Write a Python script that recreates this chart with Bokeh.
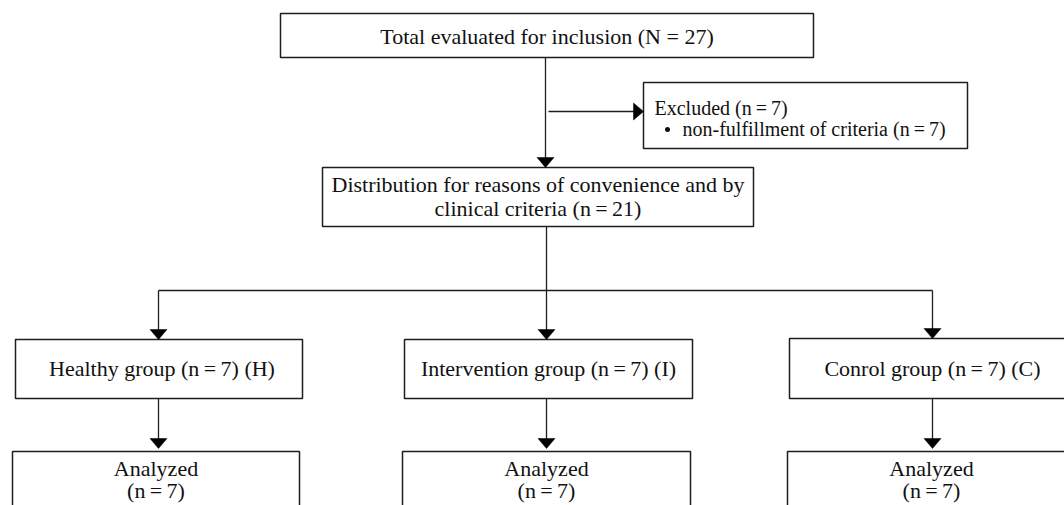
from bokeh.plotting import figure
from bokeh.models import Range1d
from bokeh.core.properties import value
from bokeh.embed import file_html
from bokeh.resources import INLINE

# ---- content ----
box_texts = [
    ["Total evaluated for inclusion (N = 27)"],
    None,
    ["Distribution for reasons of convenience and by", "clinical criteria (n\u2009=\u200921)"],
    ["Healthy group (n\u2009=\u20097) (H)"],
    ["Intervention group (n\u2009=\u20097) (I)"],
    ["Conrol group (n\u2009=\u20097) (C)"],
    ["Analyzed", "(n\u2009=\u20097)"],
    ["Analyzed", "(n\u2009=\u20097)"],
    ["Analyzed", "(n\u2009=\u20097)"],
]
excluded_lines = ["Excluded (n\u2009=\u20097)", "non-fulfillment of criteria (n\u2009=\u20097)"]

# ---- layout (pixel coordinates of the page) ----
L = [280, 643, 322, 15, 404, 789, 12, 402, 787]
R = [813, 967, 753, 302, 692, 1075, 299, 690, 1075]
T = [13, 82, 167, 339, 339, 338, 451, 451, 451]
B = [57, 148, 226, 398, 398, 398, 530, 530, 530]
text_centers_y = {0: 36, 2: 196, 3: 368, 4: 368, 5: 368, 6: 479, 7: 479, 8: 479}
line_h = {2: 24, 6: 22, 7: 22, 8: 22}

W, H = 1064, 505
p = figure(width=W, height=H, output_backend="svg", toolbar_location=None,
           x_range=Range1d(0, W), y_range=Range1d(H, 0),
           min_border=0, outline_line_color=None)
p.axis.visible = False
p.grid.visible = False
p.background_fill_color = "white"

p.quad(left=L, right=R, top=T, bottom=B, fill_color="white",
       line_color="#1e1e1e", line_width=1.5)

FONT = value("Liberation Serif")
FS = "22px"
tx, ty, tt = [], [], []
for i, lines in enumerate(box_texts):
    if lines is None:
        continue
    cx = (L[i] + R[i]) / 2 + (3 if i in (3,) else 0)
    cy = text_centers_y[i]
    n = len(lines)
    for k, s in enumerate(lines):
        tx.append(cx)
        ty.append(cy + (k - (n - 1) / 2) * line_h.get(i, 0))
        tt.append(s)
p.text(x=tx, y=ty, text=tt, text_align="center", text_baseline="middle",
       text_font=FONT, text_font_size=FS, text_color="#111111")

# excluded box text (left aligned)
p.text(x=[654, 682], y=[107, 128], text=excluded_lines, text_align="left",
       text_baseline="middle", text_font=FONT, text_font_size="20px", text_color="#111111")
p.scatter(x=[667], y=[129], size=5, marker="circle", fill_color="#111111", line_color=None)

# ---- connectors ----
sx0 = [545, 548, 546, 158, 158, 546, 932, 158, 546, 932]
sy0 = [57, 111, 226, 290, 290, 290, 290, 398, 398, 398]
sx1 = [545, 634, 546, 932, 158, 546, 932, 158, 546, 932]
sy1 = [158, 111, 290, 290, 330, 330, 330, 442, 442, 442]
p.segment(x0=sx0, y0=sy0, x1=sx1, y1=sy1, line_color="#1e1e1e", line_width=1.3)

# arrow heads: (tip x, tip y, direction)
heads = [(545, 167, "down"), (643, 111, "right"),
         (158, 339, "down"), (546, 339, "down"), (932, 338, "down"),
         (158, 448, "down"), (546, 448, "down"), (932, 448, "down")]
xs, ys = [], []
for hx, hy, d in heads:
    if d == "down":
        xs.append([hx - 8.5, hx + 8.5, hx])
        ys.append([hy - 10, hy - 10, hy])
    else:
        xs.append([hx - 10, hx - 10, hx])
        ys.append([hy - 8.5, hy + 8.5, hy])
p.patches(xs=xs, ys=ys, fill_color="black", line_color="black", line_width=0.5)

open("out.html", "w").write(file_html(p, INLINE))
